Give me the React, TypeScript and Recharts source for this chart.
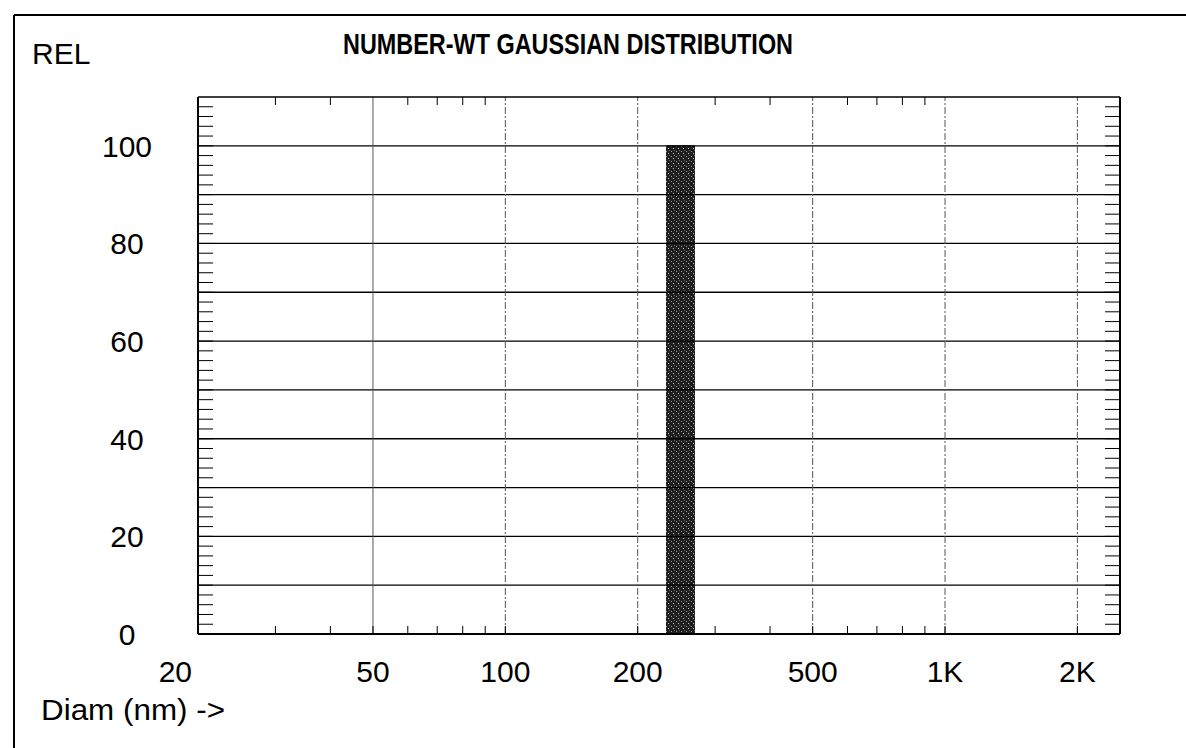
import React from "react";
import { ComposedChart, Area, Line, XAxis, YAxis, ReferenceLine } from "recharts";

// single size bin (nm) and its relative height
const diamEdges = [232, 270];
const relValues = [100, 100];

const xMajorTicks = [20, 50, 100, 200, 500, 1000, 2000];
const xTickLabels = ["20", "50", "100", "200", "500", "1K", "2K"];
const xMinorTicks = [30, 40, 60, 70, 80, 90, 300, 400, 600, 700, 800, 900];
const xGridLines = [50, 100, 200, 500, 1000, 2000];

const yMajorTicks = [0, 20, 40, 60, 80, 100];
const yGridLines = [10, 20, 30, 40, 50, 60, 70, 80, 90, 100];

const xDomain = [20, 2500];
const yDomain = [0, 110];

const data = diamEdges.map((d, i) => ({ diam: d, rel: relValues[i] }));
const xAllTicks = [...xMajorTicks, ...xMinorTicks].sort((a, b) => a - b);
const yAllTicks = Array.from({ length: 55 }, (_, i) => i * 2);

const FONT = "'Liberation Sans', Arial, sans-serif";

function XTick(props: any) {
  const { x, y, payload } = props;
  const idx = xMajorTicks.indexOf(payload.value);
  if (idx < 0) return null;
  const first = idx === 0;
  return (
    <text
      x={first ? x - 6 : x}
      y={y}
      dy="0.71em"
      textAnchor={first ? "end" : "middle"}
      fontSize={30}
      fontFamily={FONT}
      fill="#000"
    >
      {xTickLabels[idx]}
    </text>
  );
}

function YTick(props: any) {
  const { x, y, payload } = props;
  if (!yMajorTicks.includes(payload.value)) return null;
  return (
    <text x={x} y={y} dy="0.36em" textAnchor="middle" fontSize={30} fontFamily={FONT} fill="#000">
      {payload.value}
    </text>
  );
}

const noLabel = () => <g />;

export default function App() {
  return (
    <div style={{ position: "absolute", left: 0, top: 0, width: 1186, height: 748, background: "#fff", fontFamily: FONT }}>
      <ComposedChart
        width={1186}
        height={748}
        data={data}
        margin={{ top: 96, right: 65, bottom: 0, left: 14 }}
      >
        <defs>
          <pattern id="stipple" width="5" height="5" patternUnits="userSpaceOnUse">
            <rect width="5" height="5" fill="#1e1e1e" />
            <rect x="1" y="1" width="1" height="1" fill="#9a9a9a" />
            <rect x="3" y="3" width="1" height="1" fill="#c8c8c8" />
            <rect x="4" y="0" width="1" height="1" fill="#666" />
          </pattern>
        </defs>
        <XAxis
          xAxisId="b"
          dataKey="diam"
          type="number"
          scale="log"
          domain={xDomain}
          allowDataOverflow
          ticks={xAllTicks}
          interval={0}
          height={114}
          tickSize={-8}
          tickMargin={35}
          tickLine={{ stroke: "#000", strokeWidth: 1 }}
          axisLine={{ stroke: "#000", strokeWidth: 2 }}
          tick={XTick}
        />
        <XAxis
          xAxisId="t"
          dataKey="diam"
          orientation="top"
          type="number"
          scale="log"
          domain={xDomain}
          allowDataOverflow
          ticks={xMinorTicks}
          interval={0}
          height={1}
          tickSize={-8}
          tickLine={{ stroke: "#000", strokeWidth: 1 }}
          axisLine={{ stroke: "#000", strokeWidth: 1.5 }}
          tick={noLabel}
        />
        <YAxis
          yAxisId="l"
          type="number"
          domain={yDomain}
          allowDataOverflow
          ticks={yAllTicks}
          interval={0}
          width={184}
          tickSize={-15}
          tickMargin={86}
          tickLine={{ stroke: "#000", strokeWidth: 1 }}
          axisLine={{ stroke: "#000", strokeWidth: 2 }}
          tick={YTick}
        />
        <YAxis
          yAxisId="r"
          orientation="right"
          type="number"
          domain={yDomain}
          allowDataOverflow
          ticks={yAllTicks}
          interval={0}
          width={1}
          tickSize={-15}
          tickLine={{ stroke: "#000", strokeWidth: 1 }}
          axisLine={{ stroke: "#000", strokeWidth: 2 }}
          tick={noLabel}
        />
        {yGridLines.map((v) => (
          <ReferenceLine key={"h" + v} xAxisId="b" yAxisId="l" y={v} stroke="#000" strokeWidth={1.3} />
        ))}
        {xGridLines.map((v) => (
          <ReferenceLine
            key={"v" + v}
            xAxisId="b"
            yAxisId="l"
            x={v}
            stroke="#555"
            strokeWidth={1}
            strokeDasharray={v === 50 ? undefined : "7 2 2 2"}
          />
        ))}
        <Area
          xAxisId="b"
          yAxisId="l"
          dataKey="rel"
          type="linear"
          baseValue={0}
          stroke="#111"
          strokeWidth={1}
          fill="url(#stipple)"
          fillOpacity={1}
          dot={false}
          activeDot={false}
          isAnimationActive={false}
        />
        {/* invisible series so the frame axes (top / right) get drawn */}
        <Line
          xAxisId="t"
          yAxisId="r"
          dataKey="rel"
          stroke="none"
          dot={false}
          activeDot={false}
          legendType="none"
          isAnimationActive={false}
        />
      </ComposedChart>
      <svg
        width={1186}
        height={748}
        style={{ position: "absolute", left: 0, top: 0, pointerEvents: "none" }}
      >
        <line x1={14} y1={15} x2={1186} y2={15} stroke="#000" strokeWidth={2} />
        <line x1={14} y1={15} x2={14} y2={748} stroke="#000" strokeWidth={2} />
        <text x={32} y={64} fontSize={30} fontFamily={FONT} fill="#000">
          REL
        </text>
        <text
          x={343}
          y={54}
          fontSize={30}
          fontWeight="bold"
          fontFamily={FONT}
          fill="#000"
          textLength={450}
          lengthAdjust="spacingAndGlyphs"
        >
          NUMBER-WT GAUSSIAN DISTRIBUTION
        </text>
        <text
          x={41}
          y={720}
          fontSize={30}
          fontFamily={FONT}
          fill="#000"
          textLength={184}
          lengthAdjust="spacingAndGlyphs"
        >
          Diam (nm) -&gt;
        </text>
      </svg>
    </div>
  );
}
